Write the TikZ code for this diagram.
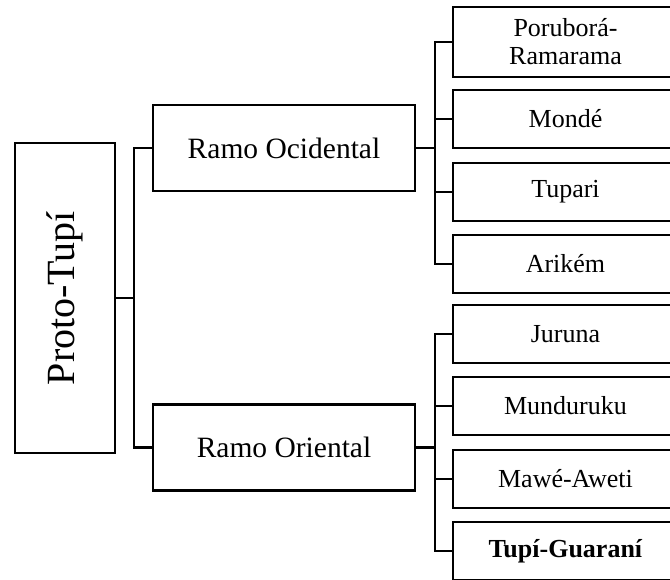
\documentclass[tikz,border=0pt]{standalone}
\usepackage{fontspec}
\setmainfont{Liberation Serif}
\usepackage{graphicx}
\usetikzlibrary{positioning}

\begin{document}
\begin{tikzpicture}[x=0.5pt, y=-0.5pt,
    box/.style={draw, line width=1.25pt, inner sep=2pt, align=center},
    leafbox/.style={box, minimum width=112.5pt, minimum height=29pt, font=\fontsize{13}{14}\selectfont},
    ramobox/.style={box, minimum width=131pt, minimum height=43pt, font=\fontsize{14.75}{16}\selectfont},
    rootbox/.style={box, minimum width=50pt, minimum height=155pt, font=\fontsize{20}{22}\selectfont},
    link/.style={line width=1.25pt}]
    \useasboundingbox (0,0) rectangle (670,579);

    % Root
    \node[rootbox] (root) at (65,298) {\rotatebox{90}{Proto-Tupí}};

    % Branches
    \node[ramobox] (ocid) at (284,148) {Ramo Ocidental};
    \node[ramobox] (orie) at (284,447.5) {Ramo Oriental};

    % Western families
    \node[leafbox, minimum height=35pt] (porub) at (565.5,42) {Poruborá-\\Ramarama};
    \node[leafbox] (monde) at (565.5,119) {Mondé};
    \node[leafbox] (tupari) at (565.5,192) {Tupari};
    \node[leafbox] (arikem) at (565.5,264) {Arikém};

    % Eastern families
    \node[leafbox] (juruna) at (565.5,334) {Juruna};
    \node[leafbox] (mundu) at (565.5,406) {Munduruku};
    \node[leafbox] (mawe) at (565.5,479) {Mawé-Aweti};
    \node[leafbox] (tupig) at (565.5,551) {\textbf{Tupí-Guaraní}};

    % Junctions
    \coordinate (jroot) at (134,298);
    \coordinate (jocid) at (435,148);
    \coordinate (jorie) at (435,447.5);

    % Connectors
    \draw[link] (root.east) -- (jroot);
    \draw[link] (jroot) |- (ocid.west);
    \draw[link] (jroot) |- (orie.west);

    \draw[link] (ocid.east) -- (jocid);
    \foreach \leaf in {porub, monde, tupari, arikem}
        \draw[link] (jocid) |- (\leaf.west);

    \draw[link] (orie.east) -- (jorie);
    \foreach \leaf in {juruna, mundu, mawe, tupig}
        \draw[link] (jorie) |- (\leaf.west);
\end{tikzpicture}
\end{document}
